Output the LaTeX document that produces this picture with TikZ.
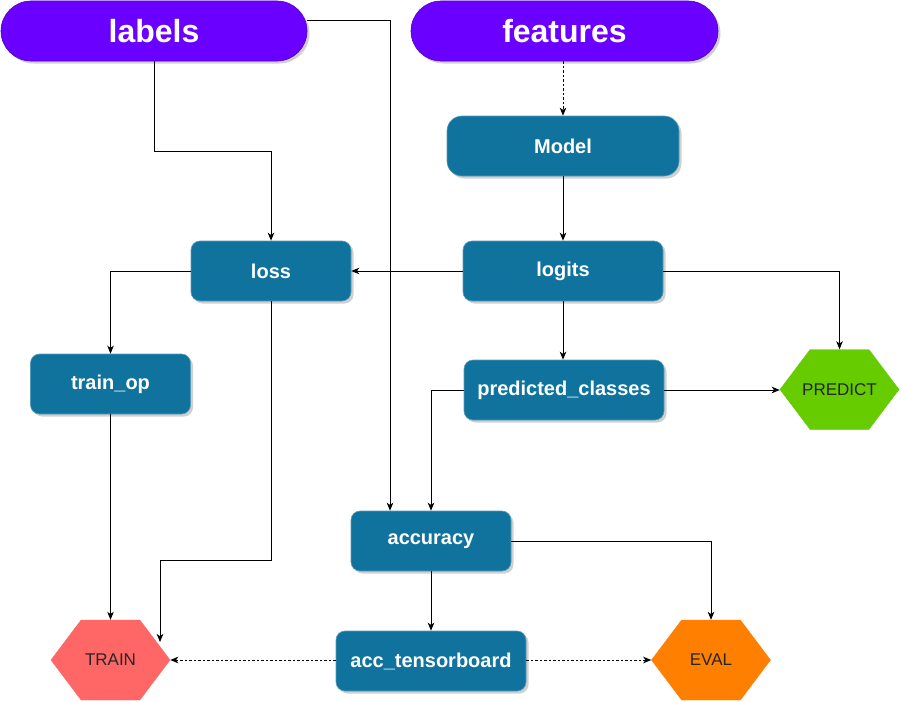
\documentclass[tikz,border=0pt]{standalone}
\usepackage{fontspec}
\setmainfont{Liberation Sans}
\usetikzlibrary{arrows.meta,shadows,shapes.symbols}
\definecolor{pillc}{HTML}{6A00FF}
\definecolor{boxc}{HTML}{10739E}
\definecolor{predc}{HTML}{66CC00}
\definecolor{trainc}{HTML}{FF6666}
\definecolor{evalc}{HTML}{FF8000}
\tikzset{
  shad/.style={drop shadow={shadow xshift=2.5pt,shadow yshift=-2.5pt,opacity=0.3,fill=black!60}},
  pill/.style={rectangle,rounded corners=30pt,fill=pillc,draw=pillc!80!black,line width=0.6pt,shad,
     minimum height=60pt,inner sep=0pt,text=white,font=\fontsize{32}{36}\selectfont\bfseries},
  boxn/.style={rectangle,rounded corners=9pt,fill=boxc,draw=boxc!70!white,line width=0.6pt,shad,
     minimum height=60pt,inner sep=0pt,text=white,font=\fontsize{20}{24}\selectfont\bfseries},
  hexn/.style={signal,signal to=east and west,signal pointer angle=106,
     minimum width=119pt,minimum height=80pt,inner sep=0pt,text=black!85,
     font=\fontsize{17}{20}\selectfont},
  arr/.style={draw=black,line width=0.9pt,-{Stealth[length=8pt,width=6.5pt,inset=2.2pt]}},
  dotarr/.style={arr,dash pattern=on 2.5pt off 2pt},
}
\begin{document}
\begin{tikzpicture}[x=1pt,y=-1pt]
\useasboundingbox[fill=white] (0,0) rectangle (901,701);
% nodes
\node[pill,minimum width=306pt] (labels) at (154,31) {labels};
\node[pill,minimum width=307pt] (features) at (564.5,31) {features};
\node[boxn,minimum width=232pt,rounded corners=15pt] (model) at (563,146) {Model};
\node[boxn,minimum width=160pt] (loss) at (271,271) {loss};
\node[boxn,minimum width=200pt] (logits) at (563,271) {logits};
\node[boxn,minimum width=160pt] (trainop) at (110.5,384) {train\_op};
\node[boxn,minimum width=200pt] (pred) at (564,390) {predicted\_classes};
\node[hexn,fill=predc,draw=predc] (predict) at (839.5,389.5) {\makebox[0pt]{PREDICT}};
\node[boxn,minimum width=160pt] (acc) at (431,541) {accuracy};
\node[boxn,minimum width=190pt] (acctb) at (431,661) {acc\_tensorboard};
\node[hexn,fill=trainc,draw=trainc] (train) at (110.5,660) {\makebox[0pt]{TRAIN}};
\node[hexn,fill=evalc,draw=evalc] (eval) at (711,660) {\makebox[0pt]{EVAL}};
\coordinate (tbend) at (160,560);
\coordinate (tin) at (160,642);
% connectors
\draw[arr] (labels.south) -- ++(0,90) -| (loss.north);
\draw[arr] ([yshift=11pt]labels.east) -| ([xshift=-41pt]acc.north);
\draw[dotarr] (model.north |- features.south) -- (model.north);
\draw[arr] (model.south) -- (logits.north);
\draw[arr] (logits.west) -- (loss.east);
\draw[arr] (logits.east) -| (predict.north);
\draw[arr] (logits.south) -- (logits.south |- pred.north);
\draw[arr] (pred.east) -- (predict.west |- pred.east);
\draw[arr] (pred.west) -| (acc.north);
\draw[arr] (loss.west) -| (trainop.north);
\draw[arr] (loss.south) |- (tbend) -- (tin);
\draw[arr] (trainop.south) -- (train.north);
\draw[arr] (acc.east) -| (eval.north);
\draw[arr] (acc.south) -- (acctb.north);
\draw[dotarr] (acctb.west |- train.east) -- (train.east);
\draw[dotarr] (acctb.east |- eval.west) -- (eval.west);
\end{tikzpicture}
\end{document}
